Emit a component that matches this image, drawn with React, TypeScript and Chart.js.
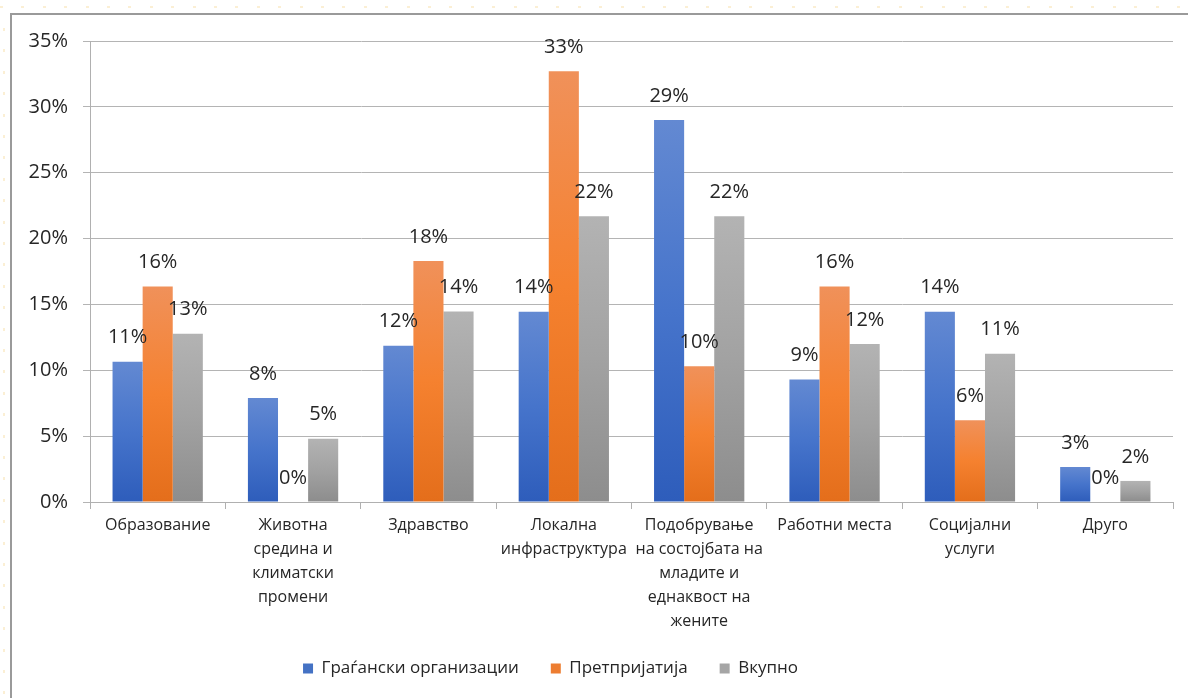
import React, { useEffect, useRef } from "react";
import { Chart, registerables } from "chart.js";

Chart.register(...registerables);

const categories: (string | string[])[] = [
  "Образование",
  ["Животна", "средина и", "климатски", "промени"],
  "Здравство",
  ["Локална", "инфраструктура"],
  ["Подобрување", "на состојбата на", "младите и", "еднаквост на", "жените"],
  "Работни места",
  ["Социјални", "услуги"],
  "Друго",
];

const seriesNames = ["Граѓански организации", "Претпријатија", "Вкупно"];

const civilOrgs = [0.1065, 0.079, 0.1187, 0.1445, 0.29, 0.093, 0.1445, 0.0266];
const enterprises = [0.1636, 0, 0.183, 0.327, 0.103, 0.1636, 0.062, 0];
const total = [0.1278, 0.048, 0.1446, 0.217, 0.217, 0.12, 0.1126, 0.016];

const yTicks = [0, 0.05, 0.1, 0.15, 0.2, 0.25, 0.3, 0.35];

const FONT = "'Open Sans', 'Noto Sans', sans-serif";
const TEXT = "#262626";

const gradients: string[][] = [
  ["#6389d2", "#4674cb", "#2e5dbb"],
  ["#f0915a", "#f5812f", "#e46e1b"],
  ["#b3b3b3", "#a2a2a2", "#8d8d8d"],
];
const solids = ["#4472c4", "#ed7d31", "#a5a5a5"];

const gradientPlugin = {
  id: "barGradients",
  beforeDatasetsDraw(chart: any) {
    const ctx = chart.ctx;
    chart.data.datasets.forEach((ds: any, di: number) => {
      const meta = chart.getDatasetMeta(di);
      meta.data.forEach((el: any) => {
        const top = Math.min(el.y, el.base);
        const bottom = Math.max(el.y, el.base);
        if (bottom - top < 1) return;
        const g = ctx.createLinearGradient(0, top, 0, bottom);
        const stops = gradients[di];
        g.addColorStop(0, stops[0]);
        g.addColorStop(0.5, stops[1]);
        g.addColorStop(1, stops[2]);
        el.options = Object.assign({}, el.options, { backgroundColor: g });
      });
    });
  },
};

const labelPlugin = {
  id: "valueLabels",
  afterDatasetsDraw(chart: any) {
    const ctx = chart.ctx;
    ctx.save();
    ctx.font = `20px ${FONT}`;
    ctx.fillStyle = TEXT;
    ctx.textAlign = "center";
    ctx.textBaseline = "middle";
    chart.data.datasets.forEach((ds: any, di: number) => {
      const meta = chart.getDatasetMeta(di);
      meta.data.forEach((el: any, i: number) => {
        const v = ds.data[i] as number;
        ctx.fillText(Math.round(v * 100) + "%", el.x, el.y - 24);
      });
    });
    ctx.restore();
  },
};

const legendShift = {
  id: "legendShift",
  afterLayout(chart: any) {
    const lg = chart.legend;
    if (lg) {
      lg.left -= 36;
      lg.right -= 36;
    }
  },
};

export default function App() {
  const ref = useRef<HTMLCanvasElement | null>(null);

  useEffect(() => {
    if (!ref.current) return;
    const data = [civilOrgs, enterprises, total];
    const chart = new Chart(ref.current, {
      type: "bar",
      data: {
        labels: categories,
        datasets: seriesNames.map((name, i) => ({
          label: name,
          data: data[i],
          backgroundColor: solids[i],
          borderWidth: 0,
          categoryPercentage: 0.667,
          barPercentage: 1,
        })),
      },
      options: {
        animation: false,
        responsive: false,
        maintainAspectRatio: false,
        devicePixelRatio: 1,
        layout: { padding: { left: 0, right: 15, top: 41, bottom: 11 } },
        plugins: {
          tooltip: { enabled: false },
          legend: {
            position: "bottom",
            labels: {
              boxWidth: 10,
              boxHeight: 10,
              padding: 32,
              color: TEXT,
              font: { family: FONT, size: 17 },
            },
          },
        },
        scales: {
          x: {
            afterFit(scale: any) {
              scale.height = 126;
            },
            grid: {
              drawOnChartArea: false,
              drawTicks: true,
              tickLength: 7,
              offset: true,
              color: "#b0b0b0",
            },
            border: { display: true, color: "#b0b0b0", width: 1 },
            ticks: {
              color: TEXT,
              font: { family: FONT, size: 16, lineHeight: 1.5 },
              maxRotation: 0,
              autoSkip: false,
              padding: 4,
            },
          },
          y: {
            min: 0,
            max: 0.35,
            afterFit(scale: any) {
              scale.width = 90;
            },
            afterBuildTicks(scale: any) {
              scale.ticks = yTicks.map((v) => ({ value: v }));
            },
            grid: {
              color: "#b4b4b4",
              tickLength: 7,
              lineWidth: 1,
            },
            border: { display: true, color: "#b0b0b0" },
            ticks: {
              color: TEXT,
              font: { family: FONT, size: 20 },
              padding: 15,
              callback: (v: any) => Math.round(Number(v) * 100) + "%",
            },
          },
        },
      },
      plugins: [gradientPlugin, labelPlugin, legendShift],
    } as any);
    return () => chart.destroy();
  }, []);

  return (
    <div
      style={{
        position: "fixed",
        left: 0,
        top: 0,
        width: 1188,
        height: 698,
        background: "#ffffff",
        overflow: "hidden",
      }}
    >
      <div
        style={{
          position: "absolute",
          left: 0,
          top: 6,
          width: 1188,
          height: 2,
          background:
            "repeating-linear-gradient(to right, #fbefd4 0px, #fbefd4 3px, transparent 3px, transparent 21.4px)",
        }}
      />
      <div
        style={{
          position: "absolute",
          left: 3,
          top: 28,
          width: 2,
          height: 670,
          background:
            "repeating-linear-gradient(to bottom, #fbefd4 0px, #fbefd4 3px, transparent 3px, transparent 21.4px)",
        }}
      />
      <div
        style={{
          position: "absolute",
          left: 10,
          top: 13,
          width: 1200,
          height: 720,
          borderLeft: "2px solid #9a9a9a",
          borderTop: "2px solid #9a9a9a",
        }}
      />
      <canvas
        ref={ref}
        width={1188}
        height={698}
        style={{ position: "absolute", left: 0, top: 0, width: 1188, height: 698 }}
      />
    </div>
  );
}
